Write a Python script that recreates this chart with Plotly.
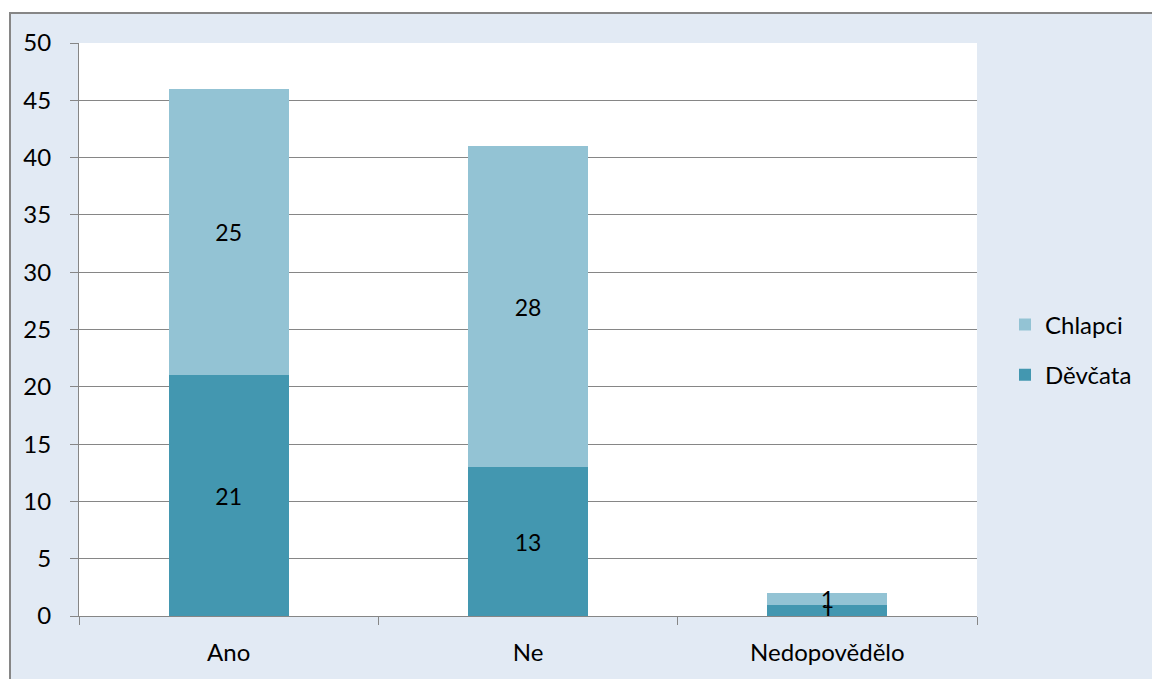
import plotly.graph_objects as go

categories = ["Ano", "Ne", "Nedopovědělo"]
devcata = [21, 13, 1]
chlapci = [25, 28, 1]

FONT = "Lato"
DARK = "#4397B0"
LIGHT = "#93C3D4"
GRID = "#868686"

W, H = 1152, 679
L, T = 79, 43
R = W - 977
B = H - 616
PW = W - L - R
PH = H - T - B

fig = go.Figure()
for name, vals, col, grp, rank in [("Děvčata", devcata, DARK, "d", 2), ("Chlapci", chlapci, LIGHT, "c", 1)]:
    fig.add_trace(go.Bar(
        x=categories, y=vals, name=name, marker_color=col,
        text=[str(v) for v in vals], textposition="inside", insidetextanchor="middle",
        textangle=0, constraintext="none",
        textfont=dict(family=FONT, size=23, color="black"),
        legendgroup=grp, legendrank=rank, width=0.4, marker_line_width=0,
    ))

fig.update_layout(
    barmode="stack",
    width=W, height=H,
    margin=dict(l=L, r=R, t=T, b=B, autoexpand=False),
    paper_bgcolor="white",
    plot_bgcolor="white",
    font=dict(family=FONT, size=24, color="black"),
    showlegend=True,
    legend=dict(
        x=(1005 - L) / PW, y=(616 - 350) / PH, xanchor="left", yanchor="middle",
        traceorder="grouped", tracegroupgap=16,
        font=dict(family=FONT, size=24, color="black"),
        bgcolor="rgba(0,0,0,0)", itemwidth=30,
    ),
    shapes=[
        dict(type="rect", xref="paper", yref="paper",
             x0=(10 - L) / PW, x1=1.4, y0=-0.3, y1=1 + (T - 13) / PH,
             fillcolor="#E2EAF4", line=dict(color=GRID, width=2), layer="below"),
        dict(type="rect", xref="paper", yref="paper", x0=0, x1=1, y0=0, y1=1,
             fillcolor="white", line=dict(width=0), layer="below"),
    ],
)

fig.update_yaxes(
    range=[0, 50], dtick=5, showgrid=True, gridcolor=GRID, gridwidth=1,
    showline=True, linecolor=GRID, linewidth=1,
    ticks="outside", ticklen=8, tickcolor=GRID, ticklabelstandoff=14,
    tickfont=dict(family=FONT, size=24), zeroline=False,
)
fig.update_xaxes(
    showline=True, linecolor=GRID, linewidth=1,
    ticks="outside", tickson="boundaries", ticklen=8, tickcolor=GRID,
    ticklabelstandoff=15,
    tickfont=dict(family=FONT, size=24),
)

fig.write_html(
    "out.html",
    config={"displayModeBar": False},
    post_script="document.body.style.margin='0';document.body.style.overflow='hidden';",
)
